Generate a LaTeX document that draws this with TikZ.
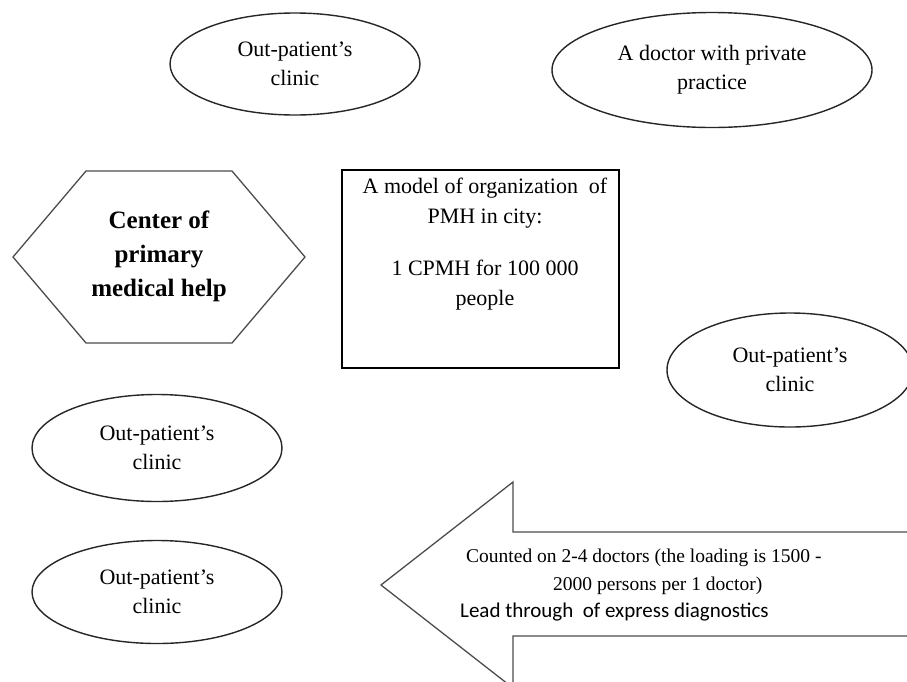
\documentclass[tikz,border=0pt]{standalone}
\usepackage{fontspec}
\setmainfont{Liberation Serif}
\newfontfamily\calib{Carlito}
\usetikzlibrary{shapes.geometric}
\begin{document}
\begin{tikzpicture}[x=1pt,y=-1pt,
  every node/.style={inner sep=0pt},
  oval/.style={draw=black!85, ellipse, line width=1.4pt, align=center, font=\fontsize{22}{29}\selectfont},
  txt/.style={align=center, font=\fontsize{22}{30}\selectfont}]
\useasboundingbox (0,0) rectangle (907,681);
\clip (0,0) rectangle (907,681);
% ellipses
\node[oval, minimum width=250pt, minimum height=102pt] (c1) at (295,64) {Out-patient's\\clinic};
\node[oval, minimum width=320pt, minimum height=115pt] (doc) at (712,70) {A doctor with private\\practice};
\node[oval, minimum width=246pt, minimum height=114pt] (c2) at (790,370) {Out-patient's\\clinic};
\node[oval, minimum width=250pt, minimum height=107pt] (c3) at (157,448) {Out-patient's\\clinic};
\node[oval, minimum width=250pt, minimum height=103pt] (c4) at (157,592) {Out-patient's\\clinic};
% hexagon
\coordinate (h1) at (13,257);
\coordinate (h2) at (86,171);
\coordinate (h3) at (232,171);
\coordinate (h4) at (305,257);
\coordinate (h5) at (232,343);
\coordinate (h6) at (86,343);
\draw[line width=1.3pt, draw=black!70] (h1) -- (h2) -- (h3) -- (h4) -- (h5) -- (h6) -- cycle;
\node[align=center, font=\fontsize{25}{34}\selectfont\bfseries] (cpmh) at (159,256) {Center of\\primary\\medical help};
% rectangle
\node[draw, line width=1.4pt, minimum width=277pt, minimum height=198pt] (model) at (480.5,269) {};
\node[txt, anchor=north] (mt1) at (485,178) {A model of organization~ of\\PMH in city:};
\node[txt, anchor=north] (mt2) at (485,260) {1 CPMH for 100 000\\people};
% arrow
\coordinate (a1) at (381,585);
\coordinate (a2) at (513,482);
\coordinate (a3) at (513,532);
\coordinate (a4) at (920,532);
\coordinate (a5) at (920,636);
\coordinate (a6) at (513,636);
\coordinate (a7) at (513,688);
\draw[line width=1.3pt, draw=black!70] (a4) -- (a3) -- (a2) -- (a1) -- (a7) -- (a6) -- (a5);
\node[anchor=west, font=\fontsize{19.5}{24}\selectfont] (at1) at (466,558) {Counted on 2-4 doctors (the loading is 1500 -};
\node[anchor=west, font=\fontsize{19.5}{24}\selectfont] (at1b) at (553,586) {2000 persons per 1 doctor)};
\node[anchor=west, font=\calib\fontsize{21}{24}\selectfont] (at2) at (460,612) {Lead through\ \ of express diagnostics};
\end{tikzpicture}
\end{document}
